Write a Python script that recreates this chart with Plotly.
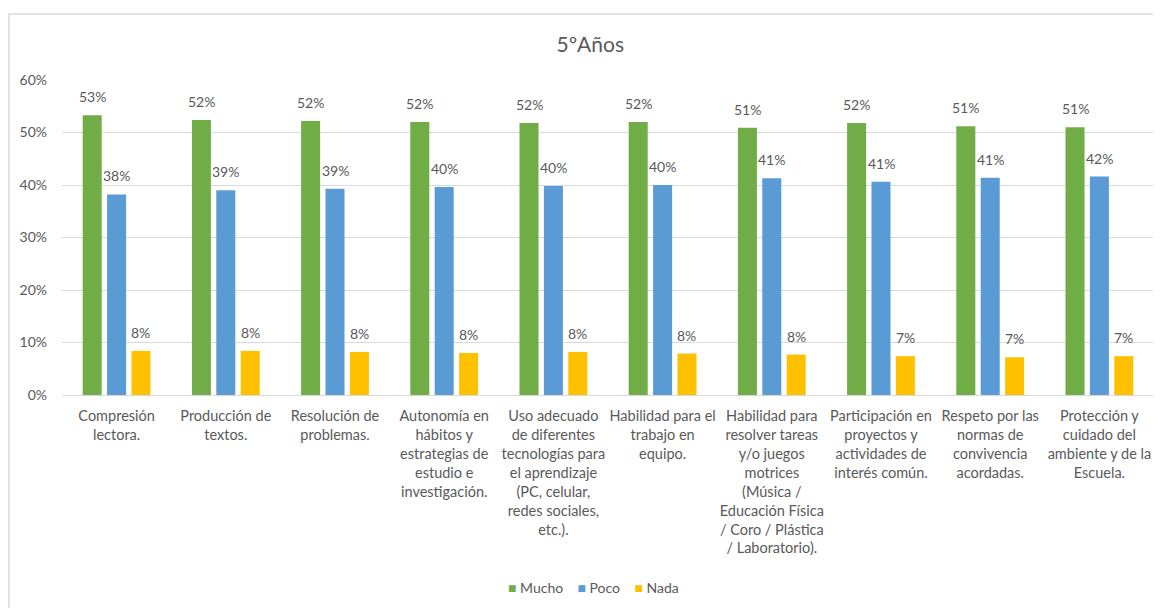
import plotly.graph_objects as go

categories = [
    "Compresión<br>lectora.",
    "Producción de<br>textos.",
    "Resolución de<br>problemas.",
    "Autonomía en<br>hábitos y<br>estrategias de<br>estudio e<br>investigación.",
    "Uso adecuado<br>de diferentes<br>tecnologías para<br>el aprendizaje<br>(PC, celular,<br>redes sociales,<br>etc.).",
    "Habilidad para el<br>trabajo en<br>equipo.",
    "Habilidad para<br>resolver tareas<br>y/o juegos<br>motrices<br>(Música /<br>Educación Física<br>/ Coro / Plástica<br>/ Laboratorio).",
    "Participación en<br>proyectos y<br>actividades de<br>interés común.",
    "Respeto por las<br>normas de<br>convivencia<br>acordadas.",
    "Protección y<br>cuidado del<br>ambiente y de la<br>Escuela.",
]

mucho = [0.533, 0.524, 0.522, 0.520, 0.518, 0.520, 0.509, 0.518, 0.512, 0.510]
poco = [0.382, 0.390, 0.393, 0.396, 0.398, 0.400, 0.413, 0.406, 0.414, 0.416]
nada = [0.084, 0.084, 0.082, 0.080, 0.082, 0.079, 0.077, 0.074, 0.072, 0.074]

series_names = ["Mucho", "Poco", "Nada"]
series_values = [mucho, poco, nada]
series_colors = ["#70AD47", "#5B9BD5", "#FFC000"]

FONT = "Lato, 'Noto Sans', sans-serif"
GRAY = "#595959"

W, H = 1153, 600
ML, MR, MT, MB = 54, 7, 72, 213
BARGAP = 0.33
plot_w = W - ML - MR
slot_px = plot_w / len(categories) * (1 - BARGAP) / len(series_names)

fig = go.Figure()
annotations = []
for i, (name, vals, color) in enumerate(zip(series_names, series_values, series_colors)):
    fig.add_trace(go.Bar(
        x=categories, y=vals, name=name,
        marker=dict(color=color, line=dict(width=0)),
        hovertemplate="%{y:.0%}<extra>" + name + "</extra>",
    ))
    for c, v in zip(categories, vals):
        annotations.append(dict(
            x=c, y=v, xref="x", yref="y", text=f"{v*100:.0f}%", showarrow=False,
            xanchor="center", yanchor="bottom", xshift=(i - 1) * slot_px, yshift=8,
            font=dict(size=14, color=GRAY, family=FONT),
        ))

legend_text = "\u00a0\u00a0\u00a0\u00a0".join(
    f"<span style='color:{col}'>■</span>\u00a0{n}" for n, col in zip(series_names, series_colors)
)
annotations.append(dict(
    x=0.487, y=-0.61, xref="paper", yref="paper", text=legend_text, showarrow=False,
    xanchor="center", yanchor="middle", font=dict(size=14, color=GRAY, family=FONT),
))

fig.update_layout(
    width=W, height=H,
    paper_bgcolor="white", plot_bgcolor="white",
    margin=dict(l=ML, r=MR, t=MT, b=MB),
    barmode="group", bargap=BARGAP, bargroupgap=0.22,
    font=dict(family=FONT, color=GRAY),
    title=dict(text="5ºAños", x=0.505, xanchor="center", y=1 - 37 / H, yanchor="middle",
               font=dict(size=21, color=GRAY, family=FONT)),
    showlegend=False,
    annotations=annotations,
    xaxis=dict(showgrid=False, showline=True, linecolor="#D9D9D9", linewidth=1,
               ticks="", ticklabelstandoff=8,
               tickfont=dict(size=14.5, color=GRAY, family=FONT), tickangle=0),
    yaxis=dict(range=[0, 0.6], dtick=0.1, tickformat=".0%", showgrid=True,
               gridcolor="#D9D9D9", gridwidth=1, zeroline=False, showline=False,
               ticks="", ticklabelstandoff=14,
               tickfont=dict(size=14, color=GRAY, family=FONT)),
    shapes=[dict(type="rect", xref="paper", yref="paper",
                 x0=(1 - ML) / plot_w, x1=1.03, y0=-0.8, y1=(387 - 6) / 315,
                 line=dict(color="#D9D9D9", width=1.5), fillcolor="rgba(0,0,0,0)", layer="below")],
)

fig.write_html("out.html")
